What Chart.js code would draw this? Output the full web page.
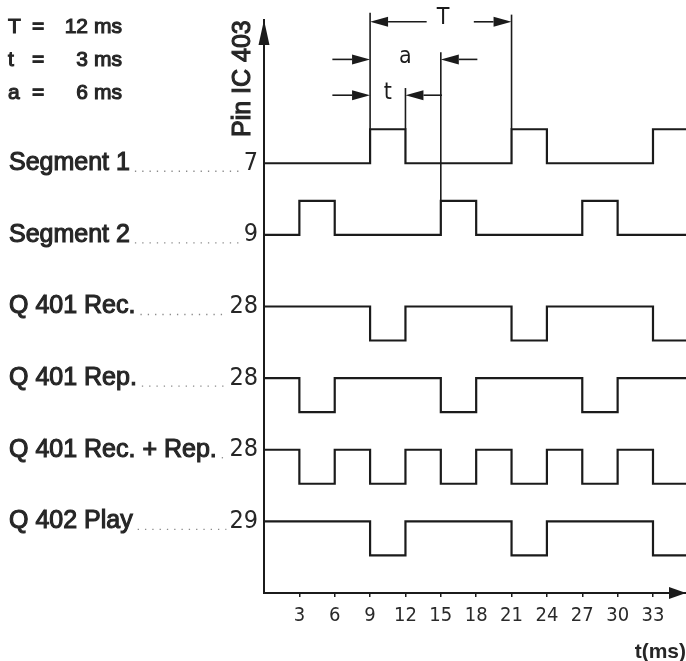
<!DOCTYPE html>
<html>
<head>
<meta charset="utf-8">
<script src="https://cdn.jsdelivr.net/npm/chart.js@4.4.1/dist/chart.umd.min.js"></script>
<style>
  html, body { margin: 0; padding: 0; background: #fff; }
</style>
</head>
<body>
<canvas id="timing" width="686" height="661"></canvas>
<script>
// signal rows, top to bottom
const signalNames = ["Segment 1", "Segment 2", "Q 401 Rec.", "Q 401 Rep.", "Q 401 Rec. + Rep.", "Q 402 Play"];
const pinNumbers = ["7", "9", "28", "28", "28", "29"];
// level of each row at t = 0 and direction of its pulses
const restLevels = [12, 10, 8, 6, 4, 2];
const pulseSign = [1, 1, -1, -1, -1, -1];
const pulseHeight = 0.95;
// times (ms) where each signal toggles
const edgeTimes = [
    [9, 12, 21, 24, 33],
    [3, 6, 15, 18, 27, 30],
    [9, 12, 21, 24, 33],
    [3, 6, 15, 18, 27, 30],
    [3, 6, 9, 12, 15, 18, 21, 24, 27, 30, 33],
    [9, 12, 21, 24, 33]
];
const timeTicks = [3, 6, 9, 12, 15, 18, 21, 24, 27, 30, 33];
const tMax = 35.8;

// timing parameters (ms)
const period = 12;
const pulseWidth = 3;
const offsetA = 6;
const firstPulse = 9;

const ink = "#1b1b1b";
const sansFont = "'Liberation Sans', Arial, sans-serif";
const narrowFont = "'Liberation Sans Narrow', 'DejaVu Sans Condensed', 'Liberation Sans', sans-serif";

function stepPoints(edges, rest, sign) {
    const pts = [{ x: 0, y: rest }];
    let on = false;
    edges.forEach(t => {
        on = !on;
        pts.push({ x: t, y: rest + (on ? sign * pulseHeight : 0) });
    });
    pts.push({ x: tMax, y: pts[pts.length - 1].y });
    return pts;
}

const datasets = signalNames.map((name, i) => ({
    label: name,
    data: stepPoints(edgeTimes[i], restLevels[i], pulseSign[i]),
    stepped: true,
    borderColor: ink,
    borderWidth: 2.2,
    pointRadius: 0,
    fill: false
}));

// dimension marks T, a, t
const dims = [
    { label: "T", end: firstPulse + period, level: 15.95, row: 0, outward: true },
    { label: "a", end: firstPulse + offsetA, level: 14.9, row: 1, outward: false },
    { label: "t", end: firstPulse + pulseWidth, level: 13.9, row: 0, outward: false }
];

function arrow(ctx, xTail, y, xTip) {
    const dir = Math.sign(xTip - xTail);
    const len = 18, half = 5;
    ctx.beginPath();
    ctx.moveTo(xTail, y);
    ctx.lineTo(xTip - dir * len, y);
    ctx.stroke();
    ctx.beginPath();
    ctx.moveTo(xTip, y);
    ctx.lineTo(xTip - dir * len, y - half);
    ctx.lineTo(xTip - dir * len, y + half);
    ctx.closePath();
    ctx.fill();
}

// medium-weight text: regular face with a thin outline
function mediumText(ctx, text, x, y) {
    ctx.fillText(text, x, y);
    ctx.lineWidth = 1.1;
    ctx.strokeText(text, x, y);
}

const drawExtras = {
    id: "drawExtras",
    afterDraw(chart) {
        const { ctx, chartArea } = chart;
        const xs = chart.scales.x, ys = chart.scales.y;
        const px = v => xs.getPixelForValue(v);
        const py = v => ys.getPixelForValue(v);
        ctx.save();
        ctx.fillStyle = ink;
        ctx.strokeStyle = ink;

        // axis arrow heads
        ctx.beginPath();
        ctx.moveTo(chartArea.left, chartArea.top);
        ctx.lineTo(chartArea.left - 5.5, chartArea.top + 25);
        ctx.lineTo(chartArea.left + 5.5, chartArea.top + 25);
        ctx.closePath();
        ctx.fill();
        ctx.beginPath();
        ctx.moveTo(chartArea.right, chartArea.bottom);
        ctx.lineTo(chartArea.right - 17, chartArea.bottom - 6);
        ctx.lineTo(chartArea.right - 17, chartArea.bottom + 6);
        ctx.closePath();
        ctx.fill();

        // extension lines and dimension arrows
        ctx.lineWidth = 1.6;
        const topRow = restLevels[0] + pulseHeight;
        ctx.beginPath();
        ctx.moveTo(px(firstPulse), py(dims[0].level + 0.25));
        ctx.lineTo(px(firstPulse), py(topRow));
        ctx.stroke();
        ctx.font = "23px " + narrowFont;
        ctx.textAlign = "center";
        ctx.textBaseline = "middle";
        dims.forEach(d => {
            const y = py(d.level);
            ctx.lineWidth = 1.6;
            ctx.beginPath();
            ctx.moveTo(px(d.end), py(d.level + 0.2));
            ctx.lineTo(px(d.end), py(restLevels[d.row] + pulseHeight));
            ctx.stroke();
            const mid = (firstPulse + d.end) / 2;
            if (d.outward) {
                arrow(ctx, px(mid - 1.2), y, px(firstPulse));
                arrow(ctx, px(mid + 2.8), y, px(d.end));
                ctx.fillText(d.label, px(mid + 0.2), y - 4);
            } else {
                arrow(ctx, px(firstPulse - 3.2), y, px(firstPulse));
                arrow(ctx, px(d.end + 3.1), y, px(d.end));
                ctx.fillText(d.label, px(mid), y - 2);
            }
        });

        // row labels with dotted leaders and pin numbers
        const pinRight = chartArea.left - 6;
        ctx.fillStyle = "#262626";
        ctx.strokeStyle = "#262626";
        ctx.textBaseline = "middle";
        signalNames.forEach((name, i) => {
            const y = py(restLevels[i]);
            ctx.font = "25px " + sansFont;
            ctx.textAlign = "left";
            mediumText(ctx, name, 9, y);
            const w = ctx.measureText(name).width;
            ctx.font = "25px " + narrowFont;
            ctx.textAlign = "right";
            ctx.fillText(pinNumbers[i], pinRight, y);
            const pw = ctx.measureText(pinNumbers[i]).width;
            ctx.save();
            ctx.strokeStyle = "#8a8a8a";
            ctx.lineWidth = 1.3;
            ctx.setLineDash([1.3, 6]);
            ctx.beginPath();
            ctx.moveTo(9 + w + 5, y + 8);
            ctx.lineTo(pinRight - pw - 3, y + 8);
            ctx.stroke();
            ctx.restore();
        });

        // vertical axis caption
        ctx.save();
        ctx.translate(chartArea.left - 21, 137);
        ctx.rotate(-Math.PI / 2);
        ctx.font = "25px " + sansFont;
        ctx.textAlign = "left";
        ctx.textBaseline = "middle";
        mediumText(ctx, "Pin IC 403", 0, 0);
        ctx.restore();

        // parameter list
        const params = [["T", period], ["t", pulseWidth], ["a", offsetA]];
        ctx.font = "21px " + sansFont;
        ctx.textBaseline = "middle";
        params.forEach(([sym, val], i) => {
            const y = 27 + i * 33;
            ctx.textAlign = "left";
            mediumText(ctx, sym, 8, y);
            mediumText(ctx, "=", 32, y);
            ctx.textAlign = "right";
            mediumText(ctx, String(val), 88, y);
            ctx.textAlign = "left";
            mediumText(ctx, "ms", 94, y);
        });
        ctx.restore();
    }
};

new Chart(document.getElementById("timing"), {
    type: "line",
    data: { datasets },
    options: {
        responsive: false,
        devicePixelRatio: 1,
        animation: false,
        layout: { padding: { left: 264, top: 20, right: 0, bottom: 0 } },
        plugins: { legend: { display: false }, tooltip: { enabled: false } },
        scales: {
            x: {
                type: "linear",
                position: "bottom",
                min: 0,
                max: tMax,
                afterBuildTicks: s => { s.ticks = timeTicks.map(v => ({ value: v })); },
                afterFit: s => { s.height = 68; },
                grid: { display: true, drawOnChartArea: false, drawTicks: true, tickLength: 4, color: ink, lineWidth: 1.5 },
                border: { display: true, color: ink, width: 2 },
                ticks: {
                    autoSkip: false,
                    maxRotation: 0,
                    padding: 7,
                    color: "#2a2a2a",
                    font: { family: narrowFont, size: 20 }
                },
                title: {
                    display: true,
                    text: "t(ms)",
                    align: "end",
                    color: "#262626",
                    padding: { top: 0, bottom: -4 },
                    font: { family: sansFont, size: 21, weight: "bold" }
                }
            },
            y: {
                type: "linear",
                min: 0,
                max: 16,
                afterFit: s => { s.width = 0; },
                ticks: { display: false },
                grid: { display: false },
                border: { display: true, color: ink, width: 2 }
            }
        }
    },
    plugins: [drawExtras]
});
</script>
</body>
</html>
